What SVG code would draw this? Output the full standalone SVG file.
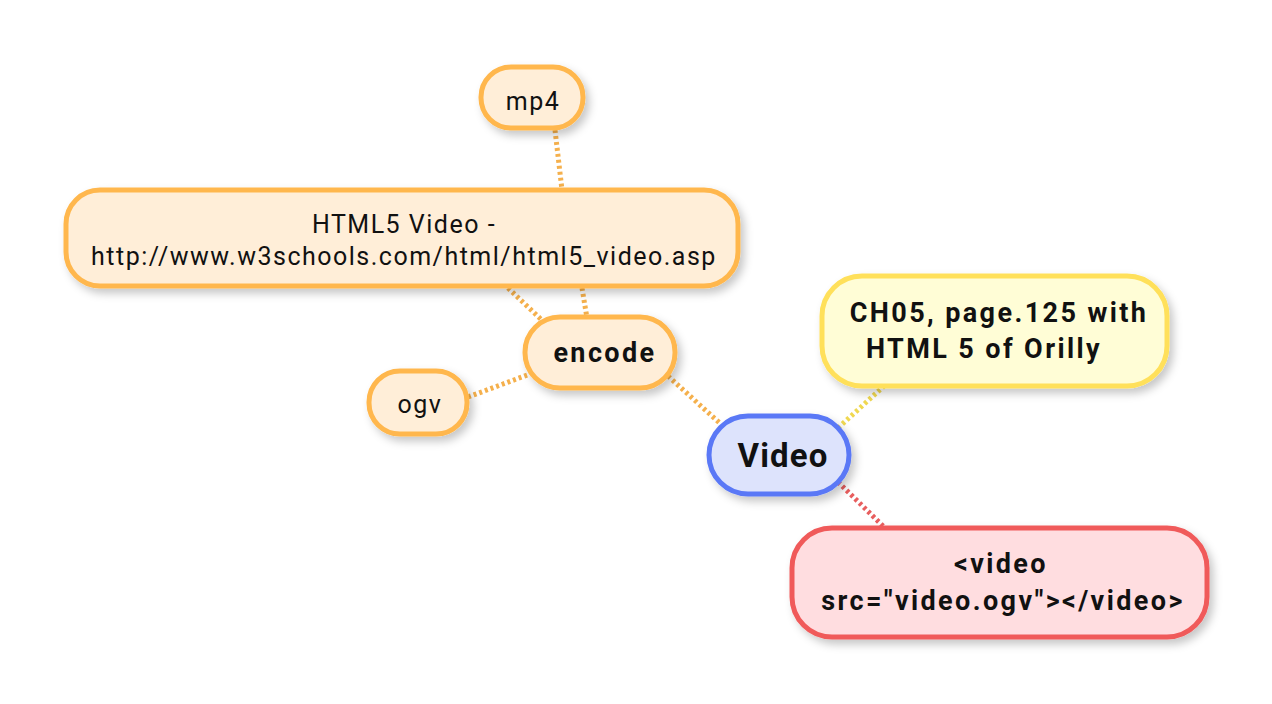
<svg xmlns="http://www.w3.org/2000/svg" width="1272" height="704" viewBox="0 0 1272 704">
<defs>
<filter id="sh" x="-20%" y="-30%" width="150%" height="180%">
<feDropShadow dx="4" dy="5" stdDeviation="4" flood-color="#000" flood-opacity="0.22"/>
</filter>
</defs>
<style>
.c{fill:none;stroke-width:5;stroke-dasharray:3 3}
.o{stroke:#f5b04c}
.y{stroke:#f0d850}
.r{stroke:#e85e5e}
.n{stroke-width:5;filter:url(#sh)}
.no{fill:#ffeed8;stroke:#ffb74d}
.t{font-family:Roboto,"Liberation Sans",sans-serif;fill:#111;text-anchor:middle}
.s{font-size:25px;letter-spacing:1.5px}
.b{font-weight:bold;font-size:27px;letter-spacing:2.4px}
</style>
<rect width="1272" height="704" fill="#fff"/>
<g id="connectors">
<line class="c o" x1="555" y1="130" x2="562" y2="190"/>
<line class="c o" x1="508" y1="288" x2="546" y2="324"/>
<line class="c o" x1="582" y1="288" x2="587" y2="318"/>
<line class="c o" x1="468" y1="397" x2="530" y2="374"/>
<line class="c o" x1="668" y1="376" x2="724" y2="427"/>
<line class="c y" x1="838" y1="428" x2="884" y2="386"/>
<line class="c r" x1="838" y1="482" x2="884" y2="527"/>
</g>
<g id="mp4">
<rect class="n no" x="481" y="67" width="102" height="61" rx="30"/>
<text class="t s" x="533" y="110" letter-spacing="1.8">mp4</text>
</g>
<g id="html5">
<rect class="n no" x="66" y="190" width="672" height="96" rx="34"/>
<text class="t s" x="404" y="233">HTML5 Video -</text>
<text class="t s" x="404" y="265">http://www.w3schools.com/html/html5_video.asp</text>
</g>
<g id="encode">
<rect class="n no" x="525" y="317" width="150" height="71" rx="35"/>
<text class="t b" x="605" y="362">encode</text>
</g>
<g id="ogv">
<rect class="n no" x="369" y="371" width="98" height="63" rx="31"/>
<text class="t s" x="420" y="413" letter-spacing="1.3">ogv</text>
</g>
<g id="video">
<rect class="n" x="709" y="416" width="140" height="78" rx="39" fill="#dde3fc" stroke="#5a78f6"/>
<text class="t b" x="783" y="467" style="font-size:33px;letter-spacing:1.1px">Video</text>
</g>
<g id="ch05">
<rect class="n" x="822" y="276" width="345" height="110" rx="40" fill="#fffdd6" stroke="#ffe05a"/>
<text class="t b" x="999" y="322">CH05, page.125 with</text>
<text class="t b" x="984" y="358">HTML 5 of Orilly</text>
</g>
<g id="code">
<rect class="n" x="792" y="528" width="415" height="109" rx="40" fill="#ffdde0" stroke="#f05a5a"/>
<text class="t b" x="1001" y="573">&lt;video</text>
<text class="t b" x="1003" y="610">src="video.ogv"&gt;&lt;/video&gt;</text>
</g>
</svg>
